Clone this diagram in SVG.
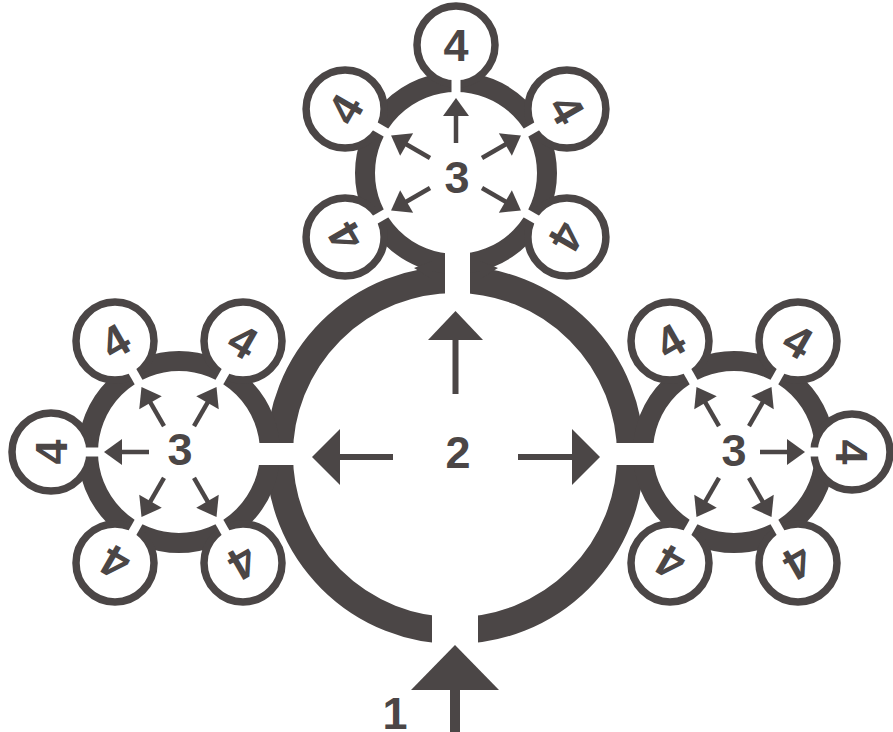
<svg xmlns="http://www.w3.org/2000/svg" xmlns:xlink="http://www.w3.org/1999/xlink" width="893" height="732" viewBox="0 0 893 732">
<style>
.ring{fill:none;stroke:#4b4646;}
.big{stroke-width:27;}
.small{stroke-width:20;}
.c4{fill:#ffffff;stroke:#4b4646;stroke-width:7.5;}
.gap{fill:#ffffff;stroke:none;}
.ink{fill:#4b4646;}
.lbl{font-family:"Liberation Sans",Arial,sans-serif;font-weight:bold;font-size:45px;fill:#4b4646;text-anchor:middle;}
</style>
<defs>
<g id="sarrow" class="ink"><rect x="30" y="-2.25" width="30" height="4.5"/><polygon points="57,-13 75,0 57,13"/></g>
</defs>
<rect width="893" height="732" fill="#ffffff"/>

<g id="node2">
<circle class="ring big" cx="455" cy="455" r="175.5"/>
</g>
<g id="node3-top"><circle class="ring small" cx="456" cy="173" r="91"/>
<polygon class="ink" points="414,268 432,261 432,279"/>
<polygon class="ink" points="498,268 480,261 480,279"/>
</g>
<g id="node3-left"><circle class="ring small" cx="179" cy="452" r="91"/></g>
<g id="node3-right"><circle class="ring small" cx="734" cy="452" r="91"/></g>

<g id="nodes4-top">
<g id="n4-t1"><circle class="c4" cx="456" cy="45" r="39"/></g>
<g id="n4-t2"><circle class="c4" cx="566.9" cy="109" r="39"/></g>
<g id="n4-t3"><circle class="c4" cx="345.1" cy="109" r="39"/></g>
<g id="n4-t4"><circle class="c4" cx="345.1" cy="237" r="39"/></g>
<g id="n4-t5"><circle class="c4" cx="566.9" cy="237" r="39"/></g>
</g>
<g id="nodes4-left">
<g id="n4-l1"><circle class="c4" cx="243" cy="341.1" r="39"/></g>
<g id="n4-l2"><circle class="c4" cx="115" cy="341.1" r="39"/></g>
<g id="n4-l3"><circle class="c4" cx="51" cy="452" r="39"/></g>
<g id="n4-l4"><circle class="c4" cx="115" cy="562.9" r="39"/></g>
<g id="n4-l5"><circle class="c4" cx="243" cy="562.9" r="39"/></g>
</g>
<g id="nodes4-right">
<g id="n4-r1"><circle class="c4" cx="852" cy="452" r="38"/></g>
<g id="n4-r2"><circle class="c4" cx="798" cy="341.1" r="39"/></g>
<g id="n4-r3"><circle class="c4" cx="670" cy="341.1" r="39"/></g>
<g id="n4-r4"><circle class="c4" cx="670" cy="562.9" r="39"/></g>
<g id="n4-r5"><circle class="c4" cx="798" cy="562.9" r="39"/></g>
</g>

<g id="openings">
<rect class="gap" x="445" y="240" width="25" height="60"/>
<rect class="gap" x="250" y="443" width="50" height="22"/>
<rect class="gap" x="610" y="443" width="50" height="22"/>
<rect class="gap" x="432" y="600" width="46" height="60"/>
<g transform="translate(456,173)">
<rect class="gap" x="74" y="-4.5" width="22" height="9" transform="rotate(-90)"/>
<rect class="gap" x="74" y="-4.5" width="22" height="9" transform="rotate(-30)"/>
<rect class="gap" x="74" y="-4.5" width="22" height="9" transform="rotate(-150)"/>
<rect class="gap" x="74" y="-4.5" width="22" height="9" transform="rotate(-210)"/>
<rect class="gap" x="74" y="-4.5" width="22" height="9" transform="rotate(-330)"/>
</g>
<g transform="translate(179,452)">
<rect class="gap" x="74" y="-4.5" width="22" height="9" transform="rotate(-60)"/>
<rect class="gap" x="74" y="-4.5" width="22" height="9" transform="rotate(-120)"/>
<rect class="gap" x="74" y="-4.5" width="22" height="9" transform="rotate(-180)"/>
<rect class="gap" x="74" y="-4.5" width="22" height="9" transform="rotate(-240)"/>
<rect class="gap" x="74" y="-4.5" width="22" height="9" transform="rotate(-300)"/>
</g>
<g transform="translate(734,452)">
<rect class="gap" x="70" y="-4.5" width="22" height="9" transform="rotate(0)"/>
<rect class="gap" x="74" y="-4.5" width="22" height="9" transform="rotate(-60)"/>
<rect class="gap" x="74" y="-4.5" width="22" height="9" transform="rotate(-120)"/>
<rect class="gap" x="74" y="-4.5" width="22" height="9" transform="rotate(-240)"/>
<rect class="gap" x="74" y="-4.5" width="22" height="9" transform="rotate(-300)"/>
</g>
</g>

<g id="connectors">
<g class="ink">
<rect x="452.5" y="338" width="6" height="56"/>
<polygon points="428,340 455.5,311 483,340"/>
<rect x="338" y="454" width="55" height="6"/>
<polygon points="340,429 312,457 340,485"/>
<rect x="518" y="454" width="56" height="6"/>
<polygon points="572,429 600,457 572,485"/>
<rect x="450" y="688" width="10" height="44"/>
<polygon points="411,690 455,645 499,690"/>
</g>
<g transform="translate(456,173)">
<use xlink:href="#sarrow" transform="rotate(-90)"/>
<use xlink:href="#sarrow" transform="rotate(-30)"/>
<use xlink:href="#sarrow" transform="rotate(-150)"/>
<use xlink:href="#sarrow" transform="rotate(-210)"/>
<use xlink:href="#sarrow" transform="rotate(-330)"/>
</g>
<g transform="translate(179,452)">
<use xlink:href="#sarrow" transform="rotate(-60)"/>
<use xlink:href="#sarrow" transform="rotate(-120)"/>
<use xlink:href="#sarrow" transform="rotate(-180)"/>
<use xlink:href="#sarrow" transform="rotate(-240)"/>
<use xlink:href="#sarrow" transform="rotate(-300)"/>
</g>
<g transform="translate(734,452)">
<use xlink:href="#sarrow" transform="translate(-4,0)"/>
<use xlink:href="#sarrow" transform="rotate(-60)"/>
<use xlink:href="#sarrow" transform="rotate(-120)"/>
<use xlink:href="#sarrow" transform="rotate(-240)"/>
<use xlink:href="#sarrow" transform="rotate(-300)"/>
</g>
</g>

<g id="labels">
<text class="lbl" x="395" y="729" font-size="43">1</text>
<text class="lbl" x="458" y="468">2</text>
<text class="lbl" x="457" y="193">3</text>
<text class="lbl" x="180" y="465">3</text>
<text class="lbl" x="734" y="466">3</text>
<g transform="translate(456,45)"><text class="lbl" x="0" y="16">4</text></g>
<g transform="translate(566.9,109) rotate(60)"><text class="lbl" x="0" y="16">4</text></g>
<g transform="translate(345.1,109) rotate(-60)"><text class="lbl" x="0" y="16">4</text></g>
<g transform="translate(345.1,237) rotate(-120)"><text class="lbl" x="0" y="16">4</text></g>
<g transform="translate(566.9,237) rotate(120)"><text class="lbl" x="0" y="16">4</text></g>
<g transform="translate(243,341.1) rotate(30)"><text class="lbl" x="0" y="16">4</text></g>
<g transform="translate(115,341.1) rotate(-30)"><text class="lbl" x="0" y="16">4</text></g>
<g transform="translate(51,452) rotate(-90)"><text class="lbl" x="0" y="16">4</text></g>
<g transform="translate(115,562.9) rotate(-150)"><text class="lbl" x="0" y="16">4</text></g>
<g transform="translate(243,562.9) rotate(150)"><text class="lbl" x="0" y="16">4</text></g>
<g transform="translate(852,452) rotate(90)"><text class="lbl" x="0" y="16">4</text></g>
<g transform="translate(798,341.1) rotate(30)"><text class="lbl" x="0" y="16">4</text></g>
<g transform="translate(670,341.1) rotate(-30)"><text class="lbl" x="0" y="16">4</text></g>
<g transform="translate(670,562.9) rotate(-150)"><text class="lbl" x="0" y="16">4</text></g>
<g transform="translate(798,562.9) rotate(150)"><text class="lbl" x="0" y="16">4</text></g>
</g>
</svg>
